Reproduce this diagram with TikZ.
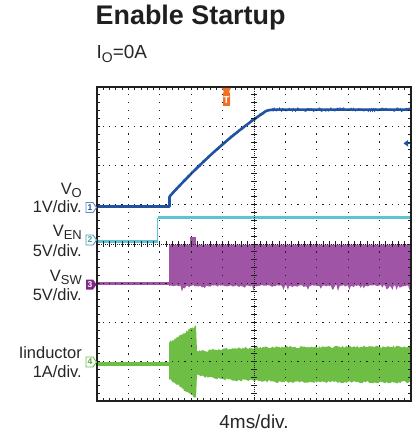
\documentclass[tikz,border=0pt]{standalone}
\usepackage{fontspec}
\setmainfont{Liberation Sans}
\definecolor{vo}{RGB}{32,82,162}
\definecolor{ven}{RGB}{92,196,210}
\definecolor{vsw}{RGB}{160,84,165}
\definecolor{vswm}{RGB}{128,38,135}
\definecolor{il}{RGB}{110,190,70}
\definecolor{trig}{RGB}{240,112,40}
\definecolor{frame}{RGB}{30,30,30}
\newcommand{\chsub}[1]{\raisebox{-3bp}{\fontsize{13}{13}\selectfont #1}}
\begin{document}
\begin{tikzpicture}[x=1bp,y=-1bp,
  lab/.style={inner sep=0pt, anchor=base east, font=\fontsize{16.5}{18}\selectfont, text=black!85},
  gdot/.style={fill=frame},
  chnum/.style={inner sep=0pt, font=\fontsize{8.5}{9}\selectfont\bfseries}]
\useasboundingbox (0,0) rectangle (415,436);
\pgfmathsetseed{7}

% titles
\node[inner sep=0pt, anchor=base west, font=\fontsize{27}{30}\selectfont\bfseries, text=black!88] (title) at (95.5,25) {Enable Startup};
\node[inner sep=0pt, anchor=base west, font=\fontsize{19}{20}\selectfont, text=black!85] (io) at (96.5,59) {I\raisebox{-4bp}{\fontsize{14}{14}\selectfont O}=0A};
\node[inner sep=0pt, anchor=base, font=\fontsize{19}{20}\selectfont, text=black!85] (tdiv) at (254,428) {4ms/div.};

% left labels
\node[lab] (lvo) at (82,195) {V\chsub{O}};
\node[lab] (lvou) at (82,213) {1V/div.};
\node[lab] (len) at (82,236) {V\chsub{EN}};
\node[lab] (lenu) at (82,256) {5V/div.};
\node[lab] (lsw) at (82,281.5) {V\chsub{SW}};
\node[lab] (lswu) at (82,300) {5V/div.};
\node[lab] (lil) at (82,358) {Iinductor};
\node[lab] (lilu) at (82,377) {1A/div.};

% ---- traces ----
% V_EN
\draw[ven, line width=2.4] (97,241.5) -- (157.5,241.5);
\draw[ven, line width=1] (157.5,241.5) -- (157.5,217.5);
\draw[ven, line width=2.4] (157.5,217.5) -- (411,217.5);

% V_SW
\draw[vsw, line width=2.4] (97,283.5) -- (169.5,283.5);
\fill[vsw] (169,244.5) -- (411,244.5)
  -- plot[domain=411:169, samples=170] (\x,{285+1.5*rnd+6*pow(rnd,9)}) -- cycle;
\fill[vsw] (190,237) rectangle (196,245);

% Inductor current
\draw[il, line width=3.4] (97,364) -- (170,364);
\fill[il] plot[domain=169:196, samples=30] (\x,{344-17*(\x-169)/27-2.5*rnd})
  -- plot[domain=197:411, samples=160] (\x,{353-5*(1-exp(-(\x-197)/35))-2.5*rnd})
  -- plot[domain=411:197, samples=160] (\x,{374+7*(1-exp(-(\x-197)/35))+2.5*rnd})
  -- plot[domain=196:169, samples=30] (\x,{377+20*(\x-169)/27+2.5*rnd}) -- cycle;

% V_O
\draw[vo, line width=2.6, line join=round] (97,206.5) -- (169.5,206.5) -- (169.5,197)
  -- plot[domain=170:266, samples=50] (\x,{196-1.099*(\x-170)+0.002226*(\x-170)*(\x-170)})
  -- plot[smooth] coordinates {(266,111)(270,110)(276,109.6)}
  -- (411,109.6);
\draw[vo, line width=0.8] plot[domain=272:410, samples=130] (\x,{109.6+(rnd-0.5)*3.8});
\draw[vo, line width=0.8] plot[domain=172:264, samples=70] (\x,{196-1.099*(\x-170)+0.002226*(\x-170)*(\x-170)+(rnd-0.5)*3.2});
% reference marker right
\fill[vo] (403.5,143.3) -- (408,140) -- (408,146.6) -- cycle;
\draw[vo, line width=1.2] (404,143.3) -- (411,143.3);

% ---- grid ----
\foreach \i in {1,2,3,4,6,7,8,9} {
  \foreach \k in {1,...,39} {
    \fill[gdot] ({97+31.4*\i-0.65},{87+7.85*\k-0.65}) rectangle ++(1.3,1.3);
  }
}
\foreach \j in {1,2,3,5,6,7} {
  \foreach \k in {1,...,49} {
    \fill[gdot] ({97+6.28*\k-0.65},{87+39.25*\j-0.65}) rectangle ++(1.3,1.3);
  }
}
% centre lines
\draw[frame, line width=0.7, dash pattern=on 0.8bp off 1.2bp] (254,87) -- (254,401);
\draw[frame, line width=0.7, dash pattern=on 0.8bp off 1.2bp] (97,244) -- (411,244);
\foreach \k in {1,...,39} { \draw[frame, line width=0.9] (251,{87+7.85*\k}) -- (257,{87+7.85*\k}); }
\foreach \k in {1,...,49} { \draw[frame, line width=0.9] ({97+6.28*\k},241) -- ({97+6.28*\k},247); }
% edge ticks
\foreach \k in {1,...,49} {
  \draw[frame, line width=0.9] ({97+6.28*\k},87) -- ++(0,3);
  \draw[frame, line width=0.9] ({97+6.28*\k},401) -- ++(0,-3);
}
\foreach \k in {1,...,39} {
  \draw[frame, line width=0.9] (97,{87+7.85*\k}) -- ++(3,0);
  \draw[frame, line width=0.9] (411,{87+7.85*\k}) -- ++(-3,0);
}
% frame
\draw[frame, line width=2.4] (97,87) rectangle (411,401);

% trigger marker
\fill[trig] (221.5,88) -- (231,88) -- (228.5,92.5) -- (230,92.5) -- (230,106) -- (223,106) -- (223,92.5) -- (224.5,92.5) -- cycle;
\node[inner sep=0pt, font=\fontsize{10}{10}\selectfont\bfseries, text=white] (tmark) at (226.5,99.8) {T};

% channel markers
\draw[vo!70, line width=0.9, fill=white] (86,202.5) -- (93,202.5) -- (96.5,207.5) -- (93,212.5) -- (86,212.5) -- cycle;
\node[chnum, text=vo] (m1) at (90,207.5) {1};
\draw[ven!80!black, line width=0.9, fill=white] (86,235) -- (93,235) -- (96.5,240) -- (93,245) -- (86,245) -- cycle;
\node[chnum, text=ven!80!black] (m2) at (90,240) {2};
\fill[vswm] (86,279.5) -- (93,279.5) -- (96.5,284.5) -- (93,289.5) -- (86,289.5) -- cycle;
\node[chnum, text=white] (m3) at (90,284.5) {3};
\draw[il, line width=0.9, fill=white] (86,357) -- (93,357) -- (96.5,362) -- (93,367) -- (86,367) -- cycle;
\node[chnum, text=il!85!black] (m4) at (90,362) {4};
\end{tikzpicture}
\end{document}
